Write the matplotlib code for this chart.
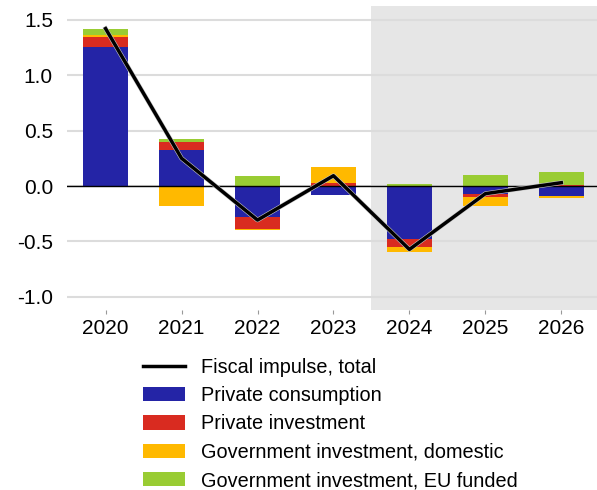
import numpy as np
import matplotlib
matplotlib.use('Agg')
import matplotlib.pyplot as plt
import matplotlib.patheffects as pe
from matplotlib.patches import Patch
from matplotlib.lines import Line2D

plt.rcParams['font.family'] = ['Liberation Sans', 'DejaVu Sans']

# Data
years = ['2020', '2021', '2022', '2023', '2024', '2025', '2026']
private_consumption = [1.25, 0.325, -0.28, -0.081, -0.479, -0.069, -0.09]
private_investment = [0.09, 0.075, -0.109, 0.03, -0.069, -0.027, 0.006]
gov_inv_domestic = [0.024, -0.178, -0.009, 0.139, -0.045, -0.082, -0.018]
gov_inv_eu = [0.055, 0.028, 0.093, 0.006, 0.018, 0.102, 0.121]
fiscal_total = [1.42, 0.25, -0.307, 0.093, -0.572, -0.069, 0.03]

series = [
    ('Private consumption', private_consumption, '#2424a6'),
    ('Private investment', private_investment, '#d92b20'),
    ('Government investment, domestic', gov_inv_domestic, '#ffb900'),
    ('Government investment, EU funded', gov_inv_eu, '#99cc33'),
]

fig = plt.figure(figsize=(5.97, 4.90), dpi=100)
ax = fig.add_axes([0.112, 0.367, 0.888, 0.621])

x = np.arange(len(years))
ax.axvspan(3.5, 6.6, color='#e6e6e6', zorder=0, lw=0)

pos_base = np.zeros(len(years))
neg_base = np.zeros(len(years))
for name, vals, col in series:
    vals = np.array(vals)
    bottom = np.where(vals >= 0, pos_base, neg_base)
    ax.bar(x, vals, width=0.6, bottom=bottom, color=col, zorder=3, lw=0)
    pos_base += np.where(vals >= 0, vals, 0)
    neg_base += np.where(vals < 0, vals, 0)

ax.plot(x, fiscal_total, color='black', lw=2.5, zorder=5,
        path_effects=[pe.Stroke(linewidth=3.3, foreground='#c8c8c8'), pe.Normal()])
ax.axhline(0, color='black', lw=1, zorder=4)

ax.set_xlim(-0.51, 6.47)
ax.set_ylim(-1.12, 1.625)
ax.set_yticks([-1.0, -0.5, 0.0, 0.5, 1.0, 1.5])
ax.set_yticklabels(['-1.0', '-0.5', '0.0', '0.5', '1.0', '1.5'])
ax.set_xticks(x)
ax.set_xticklabels(years)
ax.yaxis.grid(True, color='#dcdcdc', lw=1.5, zorder=1)
ax.set_axisbelow(True)
for s in ax.spines.values():
    s.set_visible(False)
ax.tick_params(axis='y', length=0, pad=10, labelsize=15)
ax.tick_params(axis='x', length=3, color='#999999', pad=3, labelsize=15)

handles = [Line2D([0], [0], color='black', lw=2.5)]
labels = ['Fiscal impulse, total']
for name, vals, col in series:
    handles.append(Patch(facecolor=col, lw=0))
    labels.append(name)
fig.legend(handles, labels, loc='upper left', bbox_to_anchor=(0.226, 0.286),
           frameon=False, fontsize=14.3, handlelength=2.1, handleheight=0.75,
           labelspacing=0.47, handletextpad=0.85, borderaxespad=0)

fig.savefig('out.png', dpi=100)
